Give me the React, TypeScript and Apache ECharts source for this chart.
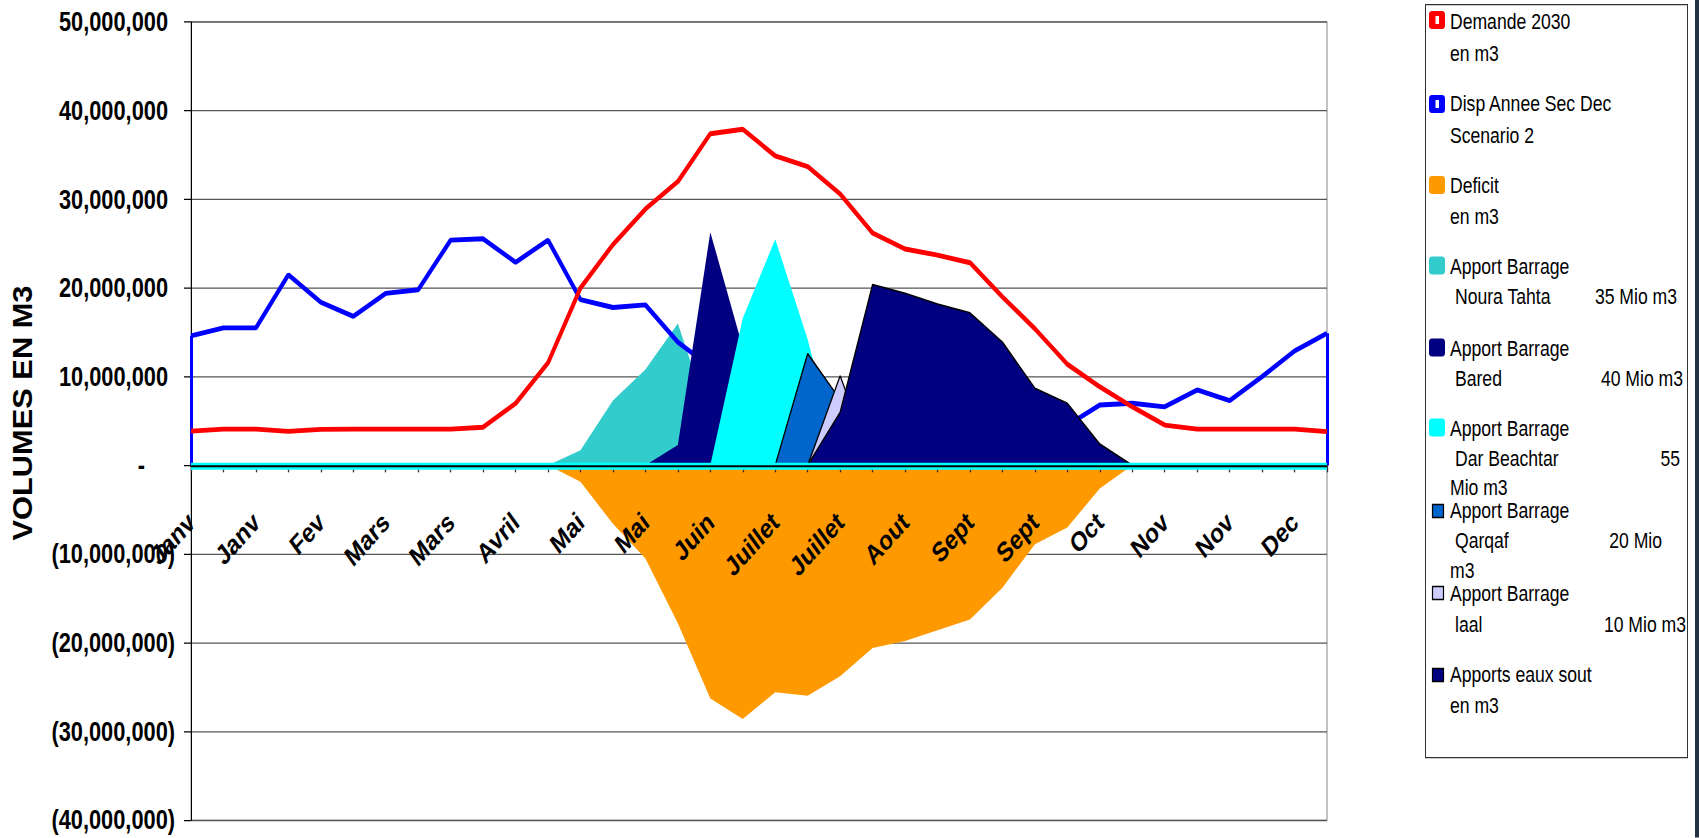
import React, { useEffect, useRef } from "react";
import * as echarts from "echarts";

// ---------- data ----------
const tickLabels = [
  "Janv", "Janv", "Janv", "Fev", "Fev", "Fev", "Mars", "Mars", "Mars",
  "Avril", "Avril", "Avril", "Mai", "Mai", "Mai", "Juin", "Juin", "Juin",
  "Juillet", "Juillet", "Juillet", "Aout", "Aout", "Aout", "Sept", "Sept", "Sept",
  "Oct", "Oct", "Oct", "Nov", "Nov", "Nov", "Dec", "Dec", "Dec",
];
const decades = tickLabels.map((m, i) => `${m} D${(i % 3) + 1}`);

const demande2030 = [
  3860000, 4090000, 4090000, 3830000, 4050000, 4090000, 4090000, 4090000, 4090000,
  4300000, 6980000, 11560000, 20000000, 24900000, 28900000, 32000000, 37400000, 37900000,
  34900000, 33700000, 30600000, 26200000, 24400000, 23700000, 22850000, 19000000, 15400000,
  11400000, 8860000, 6600000, 4540000, 4090000, 4090000, 4090000, 4090000, 3800000,
];
const dispAnneeSec = [
  14600000, 15500000, 15500000, 21500000, 18400000, 16800000, 19400000, 19800000, 25400000,
  25550000, 22900000, 25400000, 18700000, 17800000, 18100000, 13900000, 11100000, 9300000,
  9300000, 7700000, 6800000, 5500000, 4600000, 5100000, 5400000, 5200000, 6500000,
  4500000, 6800000, 7000000, 6600000, 8500000, 7300000, 10000000, 12900000, 14900000,
];
const deficit = [
  0, 0, 0, 0, 0, 0, 0, 0, 0,
  0, 0, 0, -1860000, -6600000, -10500000, -17800000, -26300000, -28600000,
  -25600000, -26000000, -23800000, -20600000, -19800000, -18600000, -17400000, -13800000, -8900000,
  -7000000, -2600000, 0, 0, 0, 0, 0, 0, 0,
];
const nouraTahta = [
  0, 0, 0, 0, 0, 0, 0, 0, 0,
  0, 0, 0, 1700000, 7300000, 10800000, 16000000, 5000000, 0,
  0, 0, 0, 0, 0, 0, 0, 0, 0,
  0, 0, 0, 0, 0, 0, 0, 0, 0,
];
const bared = [
  0, 0, 0, 0, 0, 0, 0, 0, 0,
  0, 0, 0, 0, 0, 0, 2300000, 26300000, 13300000,
  0, 0, 0, 0, 0, 0, 0, 0, 0,
  0, 0, 0, 0, 0, 0, 0, 0, 0,
];
const darBeachtar = [
  0, 0, 0, 0, 0, 0, 0, 0, 0,
  0, 0, 0, 0, 0, 0, 0, 0, 16600000,
  25500000, 14200000, 0, 0, 0, 0, 0, 0, 0,
  0, 0, 0, 0, 0, 0, 0, 0, 0,
];
const qarqaf = [
  0, 0, 0, 0, 0, 0, 0, 0, 0,
  0, 0, 0, 0, 0, 0, 0, 0, 0,
  0, 12600000, 7400000, 0, 0, 0, 0, 0, 0,
  0, 0, 0, 0, 0, 0, 0, 0, 0,
];
const laal = [
  0, 0, 0, 0, 0, 0, 0, 0, 0,
  0, 0, 0, 0, 0, 0, 0, 0, 0,
  0, 0, 10100000, 0, 0, 0, 0, 0, 0,
  0, 0, 0, 0, 0, 0, 0, 0, 0,
];
const eauxSout = [
  0, 0, 0, 0, 0, 0, 0, 0, 0,
  0, 0, 0, 0, 0, 0, 0, 0, 0,
  0, 0, 6000000, 20400000, 19400000, 18200000, 17200000, 13900000, 8700000,
  7000000, 2400000, 0, 0, 0, 0, 0, 0, 0,
];

// ---------- layout / style ----------
// The reference uses tall, narrow text: the chart is laid out in a box that is
// K times shorter and then stretched vertically by K.
const W = 1699;
const H = 838;
const K = 1.25;
const py = (v: number) => v / K;

const FONT = '"Liberation Sans", Arial, Helvetica, sans-serif';

const GRID_LEFT = 191;
const GRID_TOP = 22;
const GRID_W = 1136;
const GRID_H = 798;

const fmt = (n: number) => Math.round(n).toString().replace(/\B(?=(\d{3})+(?!\d))/g, ",");

type LegendSpec = {
  color: string;
  kind: "line" | "big" | "small";
  iconY: number;
  lines: { text: string; y: number; x?: number; right?: number }[];
};

const legendSpecs: LegendSpec[] = [
  { color: "#FF0000", kind: "line", iconY: 20, lines: [{ text: "Demande 2030", y: 21 }, { text: "en m3", y: 53 }] },
  { color: "#0000FF", kind: "line", iconY: 104, lines: [{ text: "Disp Annee Sec Dec", y: 103.5 }, { text: "Scenario 2", y: 135 }] },
  { color: "#FF9900", kind: "big", iconY: 185, lines: [{ text: "Deficit", y: 185 }, { text: "en m3", y: 216 }] },
  {
    color: "#33CCCC", kind: "big", iconY: 265.5,
    lines: [{ text: "Apport Barrage", y: 266.5 }, { text: "Noura Tahta", y: 296, x: 1455 }, { text: "35 Mio m3", y: 296, right: 1677 }],
  },
  {
    color: "#000080", kind: "big", iconY: 347.5,
    lines: [{ text: "Apport Barrage", y: 348 }, { text: "Bared", y: 378, x: 1455 }, { text: "40 Mio m3", y: 378, right: 1683 }],
  },
  {
    color: "#00FFFF", kind: "big", iconY: 427.5,
    lines: [
      { text: "Apport Barrage", y: 428 }, { text: "Dar Beachtar", y: 458.5, x: 1455 },
      { text: "55", y: 458.5, right: 1680 }, { text: "Mio m3", y: 487 },
    ],
  },
  {
    color: "#0066CC", kind: "small", iconY: 511,
    lines: [
      { text: "Apport Barrage", y: 510.5 }, { text: "Qarqaf", y: 540.5, x: 1455 },
      { text: "20 Mio", y: 540.5, right: 1662 }, { text: "m3", y: 570.5 },
    ],
  },
  {
    color: "#CCCCFF", kind: "small", iconY: 593,
    lines: [{ text: "Apport Barrage", y: 593 }, { text: "laal", y: 624.5, x: 1455 }, { text: "10 Mio m3", y: 624.5, right: 1686 }],
  },
  { color: "#000080", kind: "small", iconY: 675, lines: [{ text: "Apports eaux sout", y: 674.5 }, { text: "en m3", y: 705 }] },
];

function buildGraphics(): any[] {
  const els: any[] = [
    {
      type: "rect", silent: true, z: 50,
      shape: { x: 1425.5, y: py(4.5), width: 262, height: py(753) },
      style: { fill: "#ffffff", stroke: "#333333", lineWidth: 1 },
    },
    {
      type: "rect", silent: true, z: 50,
      shape: { x: 1695, y: 0, width: 4, height: py(H) },
      style: { fill: "#22313f" },
    },
    {
      // y-axis title
      type: "text", silent: true, z: 50,
      x: 22, y: py(413), rotation: Math.PI / 2, scaleX: 1.1 / K, scaleY: 1,
      style: {
        text: "VOLUMES EN M3",
        x: 0, y: 0,
        fill: "#000",
        fontSize: 28,
        fontWeight: "bold",
        fontFamily: FONT,
        textAlign: "center", align: "center",
        textVerticalAlign: "middle", verticalAlign: "middle",
      },
    },
  ];
  legendSpecs.forEach((s) => {
    if (s.kind === "small") {
      els.push({
        type: "rect", silent: true, z: 51,
        shape: { x: 1432.5, y: py(s.iconY - 6.5), width: 11, height: py(13) },
        style: { fill: s.color, stroke: "#000", lineWidth: 1.2 },
      });
    } else {
      els.push({
        type: "rect", silent: true, z: 51,
        shape: { x: 1429, y: py(s.iconY - 9), width: 16, height: py(18), r: 3 },
        style: { fill: s.color },
      });
      if (s.kind === "line") {
        els.push({
          type: "rect", silent: true, z: 52,
          shape: { x: 1435.5, y: py(s.iconY - 4), width: 3.5, height: py(8) },
          style: { fill: "#ffffff" },
        });
      }
    }
    s.lines.forEach((l) => {
      const right = l.right !== undefined;
      els.push({
        type: "text", silent: true, z: 52,
        style: {
          text: l.text,
          x: right ? l.right : l.x !== undefined ? l.x : 1450,
          y: py(l.y),
          fill: "#000",
          fontSize: 17.6,
          fontFamily: FONT,
          textAlign: right ? "right" : "left",
          align: right ? "right" : "left",
          textVerticalAlign: "middle",
          verticalAlign: "middle",
        },
      });
    });
  });
  return els;
}

function area(name: string, data: number[], color: string, z: number, border: boolean) {
  return {
    name,
    type: "line",
    data,
    z,
    silent: true,
    symbol: "none",
    showSymbol: false,
    itemStyle: { color },
    lineStyle: border ? { color: "#000000", width: 1.3 } : { width: 0, opacity: 0 },
    areaStyle: { color, opacity: 1 },
  };
}

export default function App() {
  const ref = useRef<HTMLDivElement>(null);

  useEffect(() => {
    if (!ref.current) return;
    const chart = echarts.init(ref.current, undefined, { renderer: "svg" });
    const gridH = py(GRID_H);

    const option: any = {
      animation: false,
      backgroundColor: "#ffffff",
      grid: {
        show: true,
        left: GRID_LEFT,
        top: py(GRID_TOP),
        width: GRID_W,
        height: gridH,
        containLabel: false,
        outerBoundsMode: "none",
        borderColor: "#888888",
        borderWidth: 1,
        backgroundColor: "transparent",
      },
      xAxis: {
        type: "category",
        data: decades,
        boundaryGap: false,
        position: "bottom",
        offset: -(gridH * 4) / 9,
        z: 15,
        axisLine: { onZero: false, lineStyle: { color: "#000", width: 1.6 } },
        axisTick: { show: true, interval: 0, length: py(7), lineStyle: { color: "#333", width: 1.3 } },
        axisLabel: {
          interval: 1,
          rotate: 42,
          margin: py(52),
          formatter: (_v: string, i: number) => tickLabels[i],
          fontFamily: FONT,
          fontWeight: "bold",
          fontSize: 22,
          color: "#000",
        },
        splitLine: { show: false },
      },
      yAxis: {
        type: "value",
        min: -40000000,
        max: 50000000,
        interval: 10000000,
        axisLine: { show: true, lineStyle: { color: "#000", width: 1 } },
        axisTick: { show: true, length: 7, lineStyle: { color: "#000" } },
        splitLine: { show: true, lineStyle: { color: "#555", width: 1 } },
        axisLabel: {
          margin: 16,
          fontFamily: FONT,
          fontWeight: "bold",
          fontSize: 21.8,
          color: "#000",
          formatter: (v: number) =>
            v === 0 ? "{z|-}" : v < 0 ? "{n|(" + fmt(-v) + ")}" : "{p|" + fmt(v) + "}",
          rich: {
            p: { fontFamily: FONT, fontWeight: "bold", fontSize: 21.8, color: "#000", padding: [0, 7, 0, 0] },
            n: { fontFamily: FONT, fontWeight: "bold", fontSize: 21.8, color: "#000" },
            z: { fontFamily: FONT, fontWeight: "bold", fontSize: 21.8, color: "#000", padding: [0, 30, 0, 0] },
          },
        },
      },
      graphic: buildGraphics(),
      series: [
        area("Deficit en m3", deficit, "#FF9900", 1, false),
        area("Apport Barrage Noura Tahta 35 Mio m3", nouraTahta, "#33CCCC", 2, false),
        {
          name: "Disp Annee Sec Dec Scenario 2",
          type: "line",
          data: dispAnneeSec,
          z: 3,
          silent: true,
          symbol: "none",
          showSymbol: false,
          itemStyle: { color: "#0000FF" },
          lineStyle: { color: "#0000FF", width: 3.9 },
          markLine: {
            silent: true,
            z: 3,
            symbol: ["none", "none"],
            label: { show: false },
            lineStyle: { color: "#0000FF", width: 3, type: "solid" },
            data: [
              [{ coord: [decades[0], 0] }, { coord: [decades[0], dispAnneeSec[0]] }],
              [
                { coord: [decades[decades.length - 1], 0] },
                { coord: [decades[decades.length - 1], dispAnneeSec[dispAnneeSec.length - 1]] },
              ],
            ],
          },
        },
        area("Apport Barrage Bared 40 Mio m3", bared, "#000080", 4, false),
        area("Apport Barrage Dar Beachtar 55 Mio m3", darBeachtar, "#00FFFF", 5, false),
        area("Apport Barrage Qarqaf 20 Mio m3", qarqaf, "#0066CC", 6, true),
        area("Apport Barrage laal 10 Mio m3", laal, "#CCCCFF", 7, true),
        area("Apports eaux sout en m3", eauxSout, "#000080", 8, true),
        {
          name: "Demande 2030 en m3",
          type: "line",
          data: demande2030,
          z: 9,
          silent: true,
          symbol: "none",
          showSymbol: false,
          itemStyle: { color: "#FF0000" },
          lineStyle: { color: "#FF0000", width: 3.9 },
          markLine: {
            silent: true,
            z: 20,
            symbol: ["none", "none"],
            label: { show: false },
            data: [
              { yAxis: 0, lineStyle: { color: "#00FFFF", width: py(7), type: "solid" } },
              { yAxis: 0, lineStyle: { color: "#000000", width: py(2), type: "solid" } },
            ],
          },
        },
      ],
    };

    chart.setOption(option);
    return () => {
      chart.dispose();
    };
  }, []);

  return (
    <div
      style={{
        position: "fixed",
        left: 0,
        top: 0,
        width: W,
        height: H,
        overflow: "hidden",
        background: "#fff",
      }}
    >
      <div
        ref={ref}
        style={{
          width: W,
          height: H / K,
          transform: `scaleY(${K})`,
          transformOrigin: "0 0",
        }}
      />
    </div>
  );
}
